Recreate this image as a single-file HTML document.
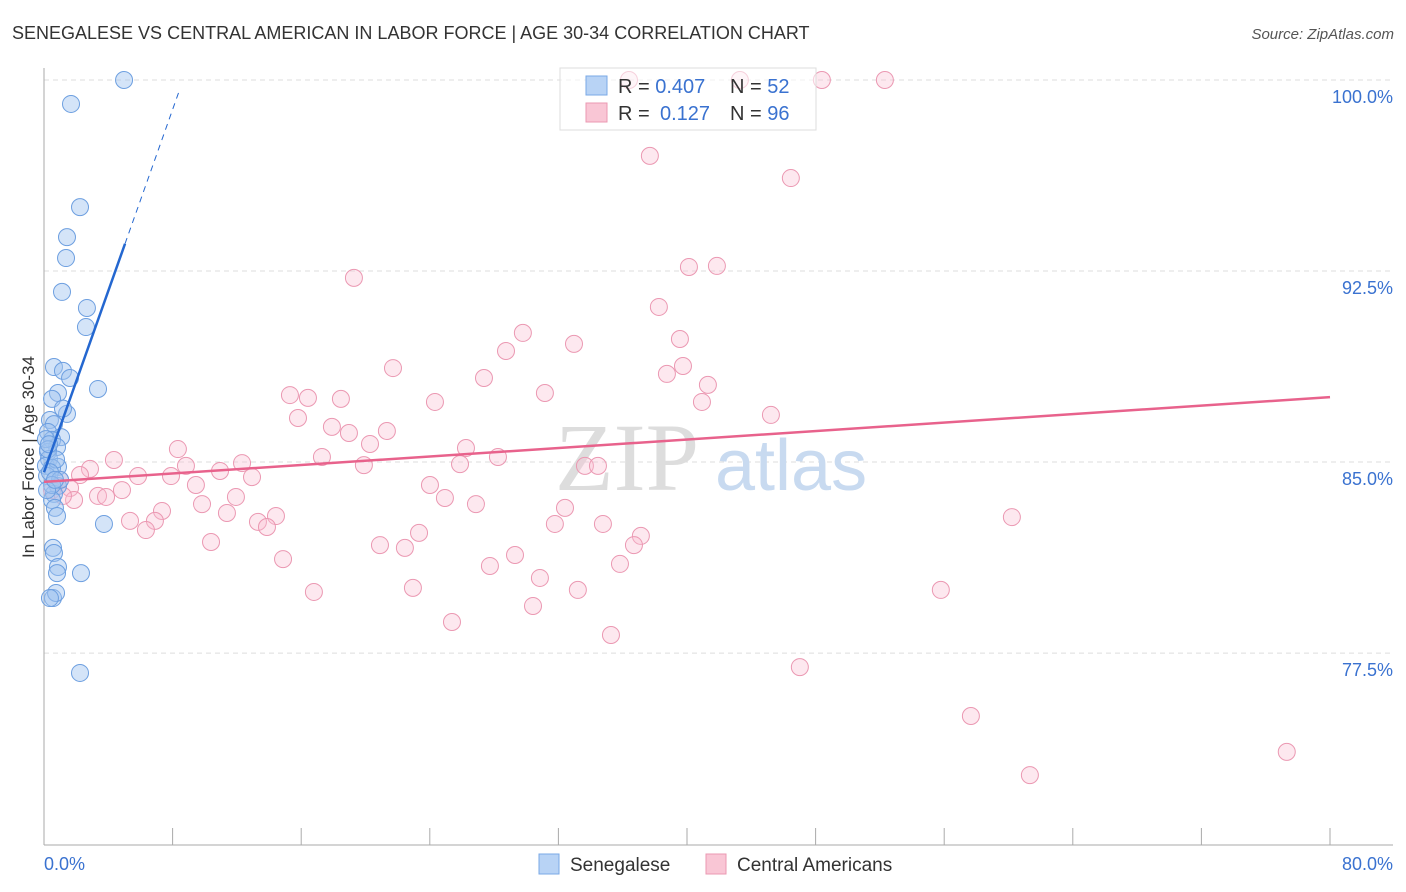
<!DOCTYPE html>
<html><head><meta charset="utf-8"><style>
body{margin:0;background:#fff;font-family:"Liberation Sans",sans-serif;}
svg{display:block}
</style></head><body>
<svg id="chart" width="1406" height="892">
<text x="12" y="39" font-size="18" fill="#333">SENEGALESE VS CENTRAL AMERICAN IN LABOR FORCE | AGE 30-34 CORRELATION CHART</text>
<text x="1394" y="39" font-size="15" fill="#555" font-style="italic" text-anchor="end">Source: ZipAtlas.com</text>
<text x="34" y="457" font-size="17" fill="#333" text-anchor="middle" transform="rotate(-90 34 457)">In Labor Force | Age 30-34</text>
<g id="grid"></g>
<g><text x="555" y="490" font-size="96" fill="#ddd" font-family="Liberation Serif,serif">ZIP</text><text x="715" y="490" font-size="72" fill="#c8daf0">atlas</text></g>
<g id="marks"></g>
<g>
<rect x="560" y="68" width="256" height="62" fill="rgba(255,255,255,0.55)" stroke="#ddd"/>
<rect x="586" y="76" width="21" height="19" fill="#b8d3f5" stroke="#7aa8e6"/>
<rect x="586" y="103" width="21" height="19" fill="#f9c6d5" stroke="#eb98b2"/>
<text x="618" y="93" font-size="20" fill="#333">R = <tspan fill="#3a72d0">0.407</tspan><tspan x="730">N = </tspan><tspan fill="#3a72d0">52</tspan></text>
<text x="618" y="120" font-size="20" fill="#333">R = <tspan fill="#3a72d0" x="660">0.127</tspan><tspan x="730">N = </tspan><tspan fill="#3a72d0">96</tspan></text>
</g>
<g>
<rect x="539" y="854" width="20" height="20" fill="#b8d3f5" stroke="#7aa8e6"/>
<text x="570" y="871" font-size="19" fill="#333">Senegalese</text>
<rect x="706" y="854" width="20" height="20" fill="#f9c6d5" stroke="#eb98b2"/>
<text x="737" y="871" font-size="19" fill="#333">Central Americans</text>
</g>
</svg>
<script>
const yTicks=[100,92.5,85,77.5];
const yTickLabels=["100.0%","92.5%","85.0%","77.5%"];
const xTickLabels=["0.0%","80.0%"];
const blueX=[4.98,1.68,2.24,1.43,1.37,1.12,2.67,2.61,0.62,1.18,1.62,3.36,0.87,0.50,1.43,0.37,0.62,0.25,1.06,0.50,0.81,0.25,0.31,0.12,0.87,0.50,0.19,0.87,0.62,0.50,0.68,0.81,3.73,0.56,0.62,0.87,0.81,2.30,0.56,0.75,0.37,2.24,0.12,0.25,0.75,0.37,1.0,0.5,0.19,0.68,0.31,1.18];
const blueY=[100.0,99.06,95.01,93.83,93.01,91.68,91.05,90.30,88.73,88.58,88.30,87.87,87.71,87.48,86.89,86.65,86.49,86.18,85.98,85.87,85.59,85.40,85.12,84.85,84.81,84.77,84.45,84.06,83.75,83.51,83.20,82.88,82.57,81.63,81.43,80.88,80.64,80.64,79.66,79.86,79.66,76.72,85.9,85.5,85.1,84.6,84.3,84.1,83.9,84.3,85.7,87.1];
const pinkX=[36.39,43.29,48.39,52.31,37.69,46.46,40.12,41.86,19.28,38.25,29.79,28.74,32.97,39.56,21.71,38.75,39.75,27.37,41.30,31.16,15.30,16.42,18.47,24.32,40.93,15.80,45.22,17.91,18.97,21.33,8.33,20.28,26.25,17.29,28.24,8.83,19.90,25.88,33.65,34.46,4.35,12.32,10.95,5.85,7.90,2.86,12.94,24.01,9.45,2.24,1.00,1.62,3.36,4.85,3.86,11.94,24.94,9.83,26.87,1.87,7.34,5.35,6.90,6.34,11.38,13.31,14.43,13.87,32.41,31.78,34.77,23.33,10.39,20.90,22.45,37.13,36.70,29.30,14.87,27.74,35.83,30.85,16.79,22.95,33.21,30.42,25.38,35.27,47.02,55.79,60.21,57.66,61.33,77.31,0.50,1.18];
const pinkY=[100,100,100,100,97.02,96.15,92.66,92.70,92.23,91.09,90.07,89.36,89.64,89.83,88.69,88.46,88.77,88.30,88.03,87.71,87.63,87.52,87.48,87.36,87.36,86.73,86.85,86.38,86.14,86.22,85.51,85.71,85.55,85.20,85.20,84.85,84.88,84.92,84.85,84.85,85.08,84.96,84.65,84.45,84.45,84.73,84.41,84.10,84.10,84.49,84.30,83.98,83.67,83.90,83.63,83.63,83.59,83.35,83.35,83.51,83.08,82.69,82.69,82.33,83.00,82.65,82.88,82.45,83.20,82.57,82.57,82.22,81.86,81.74,81.63,82.10,81.74,81.35,81.19,80.92,81.00,80.45,79.90,80.06,79.98,79.35,78.72,78.21,76.95,79.98,82.84,75.03,72.71,73.62,83.90,83.67];
const blueTrend=[84.6,1.78];
const pinkTrend=[84.22,0.0416];
const X0=44,X1=1330,Y0=80,PXY=25.47;
const sx=v=>X0+(X1-X0)*v/80;
const sy=v=>Y0+(100-v)*PXY;
const NS='http://www.w3.org/2000/svg';
function mk(t,a,p){const e=document.createElementNS(NS,t);for(const k in a)e.setAttribute(k,a[k]);p.appendChild(e);return e;}
const grid=document.getElementById('grid'),marks=document.getElementById('marks');
yTicks.forEach((t,i)=>{
 const g=mk('line',{x1:44,x2:1393,y1:sy(t),y2:sy(t),stroke:'#ddd','stroke-dasharray':'5,4'},grid);
 
 
 const l=mk('text',{x:1393,y:sy(t)+23,'font-size':18,fill:'#3a72d0','text-anchor':'end'},grid);
 l.textContent=yTickLabels[i];
 
 
});
const ax=mk('line',{x1:44,x2:44,y1:68,y2:845,stroke:'#aaa'},grid);


const bx=mk('line',{x1:44,x2:1393,y1:845,y2:845,stroke:'#aaa'},grid);


for(let i=0;i<=10;i++){const t=mk('line',{x1:sx(i*8),x2:sx(i*8),y1:828,y2:845,stroke:'#aaa'},grid);
 
 }
[[0,'start',44],[1,'end',1393]].forEach(([i,a,x])=>{const l=mk('text',{x:x,y:870,'font-size':18,fill:'#3a72d0','text-anchor':a},grid);l.textContent=xTickLabels[i];
 
 });
pinkX.forEach((x,i)=>{const c=mk('circle',{cx:sx(x),cy:sy(pinkY[i]),r:8.5,fill:'rgba(249,190,208,0.35)',stroke:'#eb98b2','stroke-width':1},marks);
 
 });
blueX.forEach((x,i)=>{const c=mk('circle',{cx:sx(x),cy:sy(blueY[i]),r:8.5,fill:'rgba(160,196,240,0.45)',stroke:'#6d9fe0','stroke-width':1},marks);
 
 });
const pt=mk('line',{x1:sx(0),y1:sy(pinkTrend[0]),x2:sx(80),y2:sy(pinkTrend[0]+pinkTrend[1]*80),stroke:'#e8628c','stroke-width':2.5},marks);


const bt=mk('line',{x1:sx(0),y1:sy(blueTrend[0]),x2:sx(5.04),y2:sy(blueTrend[0]+blueTrend[1]*5.04),stroke:'#2467d0','stroke-width':2.5},marks);


const bd=mk('line',{x1:sx(5.04),y1:sy(blueTrend[0]+blueTrend[1]*5.04),x2:sx(8.45),y2:sy(blueTrend[0]+blueTrend[1]*8.45),stroke:'#2467d0','stroke-width':1,'stroke-dasharray':'6,5'},marks);


</script>
</body></html>
